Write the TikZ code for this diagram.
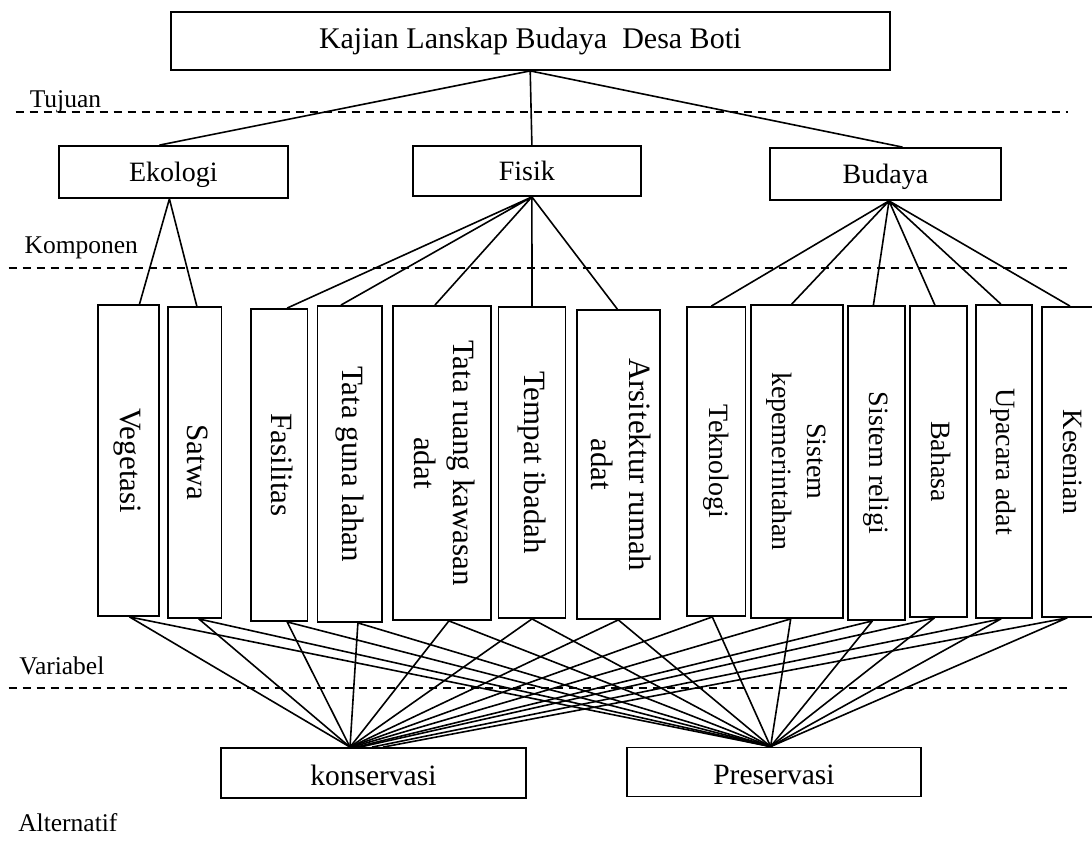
\documentclass[tikz,border=0pt]{standalone}
\usepackage{fontspec}
\setmainfont{Liberation Serif}
\usepackage{graphicx}
\usepackage{tikz}

\newcommand{\vtxt}[1]{\rotatebox{-90}{\begin{tabular}{@{}c@{}}#1\end{tabular}}}

\begin{document}
\begin{tikzpicture}[x=1pt, y=-1pt,
    box/.style={draw, line width=1.8pt, inner sep=0pt},
    hbox/.style={box, text height=19.4pt, text depth=0pt, font=\fontsize{28}{34}\selectfont},
    abox/.style={box, text height=25pt, text depth=0pt, font=\fontsize{29.5}{35}\selectfont},
    vbox/.style={box, minimum height=311pt, font=\fontsize{31}{38.5}\selectfont},
    vboxb/.style={box, minimum height=311pt, font=\fontsize{28}{35}\selectfont},
    tag/.style={anchor=base west, inner sep=0pt, font=\fontsize{25.5}{30}\selectfont},
    link/.style={line width=1.6pt, line join=round},
    sep/.style={line width=1.6pt, dash pattern=on 8.5pt off 5.5pt}]
    \useasboundingbox (0,0) rectangle (1092,847);

    % tujuan
    \node[box, minimum width=719pt, minimum height=58pt, text height=15pt, text depth=0pt, font=\fontsize{30}{36}\selectfont] (kajian) at (530.2,41) {Kajian Lanskap Budaya~~Desa Boti};

    % komponen
    \node[hbox, minimum width=228.4pt, minimum height=52pt] (ekologi) at (173.4,172) {Ekologi};
    \node[hbox, minimum width=228.5pt, minimum height=50pt] (fisik) at (526.9,171) {Fisik};
    \node[hbox, minimum width=231.2pt, minimum height=52pt] (budaya) at (885.5,174) {Budaya};

    % variabel
    \node[vbox, minimum width=60.6pt] (vegetasi) at (128.5,460.5) {\vtxt{Vegetasi}};
    \node[vbox, minimum width=53.2pt] (satwa) at (194.8,462.5) {\vtxt{Satwa}};
    \node[vbox, minimum width=56.8pt, minimum height=312pt] (fasilitas) at (279.1,465) {\vtxt{Fasilitas}};
    \node[vbox, minimum width=64.8pt, minimum height=316pt] (tataguna) at (349.9,464) {\vtxt{Tata guna lahan}};
    \node[vbox, minimum width=98.1pt, minimum height=314pt] (tataruang) at (441.9,463) {\vtxt{Tata ruang kawasan\\adat}};
    \node[vbox, minimum width=67pt] (ibadah) at (532,462.5) {\vtxt{Tempat ibadah}};
    \node[vbox, minimum width=83.3pt, minimum height=309pt] (arsitektur) at (618.3,464.5) {\vtxt{Arsitektur rumah\\adat}};
    \node[vboxb, minimum width=58.5pt, minimum height=309pt] (teknologi) at (716.3,461.5) {\vtxt{Teknologi}};
    \node[vboxb, minimum width=92pt, minimum height=313pt] (pemerintahan) at (796.7,461.5) {\vtxt{Sistem\\kepemerintahan}};
    \node[vboxb, minimum width=56.4pt, minimum height=314pt] (religi) at (876.4,463) {\vtxt{Sistem religi}};
    \node[vboxb, minimum width=56.4pt] (bahasa) at (938.4,461.5) {\vtxt{Bahasa}};
    \node[vboxb, minimum width=55.7pt, minimum height=313pt] (upacara) at (1003.9,461.5) {\vtxt{Upacara adat}};
    \node[vboxb, minimum width=56pt, minimum height=310pt] (kesenian) at (1070,462) {\vtxt{Kesenian}};

    % alternatif
    \node[abox, minimum width=304.7pt, minimum height=50pt] (konservasi) at (373.4,773) {konservasi};
    \node[abox, minimum width=294.2pt, minimum height=49pt] (preservasi) at (773.9,772) {Preservasi};

    % level labels
    \node[tag] (tujuan) at (29.6,107.5) {Tujuan};
    \node[tag] (komponen) at (24.4,253.5) {Komponen};
    \node[tag] (variabel) at (19.2,674) {Variabel};
    \node[tag] (alternatif) at (18.1,831.7) {Alternatif};

    \draw[sep] (15.7,111.7) -- (1068,111.7);
    \draw[sep] (8.7,267.7) -- (1068,267.7);
    \draw[sep] (8.7,687.7) -- (1068,687.7);

    % tujuan -> komponen
    \draw[link] (kajian.south) -- ([xshift=-14pt]ekologi.north)
                (kajian.south) -- ([xshift=5pt]fisik.north)
                (kajian.south) -- ([xshift=17pt]budaya.north);

    % komponen -> variabel
    \coordinate (ekohub) at ([xshift=-4pt]ekologi.south);
    \coordinate (fishub) at ([xshift=5pt]fisik.south);
    \coordinate (budhub) at ([xshift=3.5pt]budaya.south);
    \draw[link] (ekohub) -- ([xshift=11pt]vegetasi.north)
                (ekohub) -- ([xshift=2pt]satwa.north);
    \draw[link] (fishub) -- ([xshift=8pt]fasilitas.north)
                (fishub) -- ([xshift=-9pt]tataguna.north)
                (fishub) -- ([xshift=-7pt]tataruang.north)
                (fishub) -- (ibadah.north)
                (fishub) -- ([xshift=-1pt]arsitektur.north);
    \draw[link] (budhub) -- ([xshift=-5pt]teknologi.north)
                (budhub) -- ([xshift=-5pt]pemerintahan.north)
                (budhub) -- ([xshift=-3pt]religi.north)
                (budhub) -- ([xshift=-3.5pt]bahasa.north)
                (budhub) -- ([xshift=-3pt]upacara.north)
                (budhub) -- (kesenian.north);

    % variabel -> alternatif
    \coordinate (preshub) at ([xshift=-3.3pt]preservasi.north);
    \draw[link] ([xshift=-23.4pt]konservasi.north) -- ([xshift=1pt]vegetasi.south) -- (preshub);
    \draw[link] ([xshift=-23.4pt]konservasi.north) -- ([xshift=4pt]satwa.south) -- (preshub);
    \draw[link] ([xshift=-23.4pt]konservasi.north) -- ([xshift=8pt]fasilitas.south) -- (preshub);
    \draw[link] ([xshift=-23.4pt]konservasi.north) -- ([xshift=8pt]tataguna.south) -- (preshub);
    \draw[link] ([xshift=-23.4pt]konservasi.north) -- ([xshift=7pt]tataruang.south) -- (preshub);
    \draw[link] ([xshift=-23.4pt]konservasi.north) -- (ibadah.south) -- (preshub);
    \draw[link] ([xshift=-23.4pt]konservasi.north) -- (arsitektur.south) -- (preshub);
    \draw[link] ([xshift=-23.4pt]konservasi.north) -- ([xshift=-4pt]teknologi.south) -- (preshub);
    \draw[link] ([xshift=-21.4pt]konservasi.north) -- ([xshift=-6pt]pemerintahan.south) -- (preshub);
    \draw[link] ([xshift=-17.4pt]konservasi.north) -- ([xshift=-4pt]religi.south) -- (preshub);
    \draw[link] ([xshift=-13.4pt]konservasi.north) -- ([xshift=-4pt]bahasa.south) -- (preshub);
    \draw[link] ([xshift=-1.4pt]konservasi.north) -- ([xshift=-3pt]upacara.south) -- (preshub);
    \draw[link] ([xshift=9.6pt]konservasi.north) -- ([xshift=-3pt]kesenian.south) -- (preshub);
\end{tikzpicture}
\end{document}
